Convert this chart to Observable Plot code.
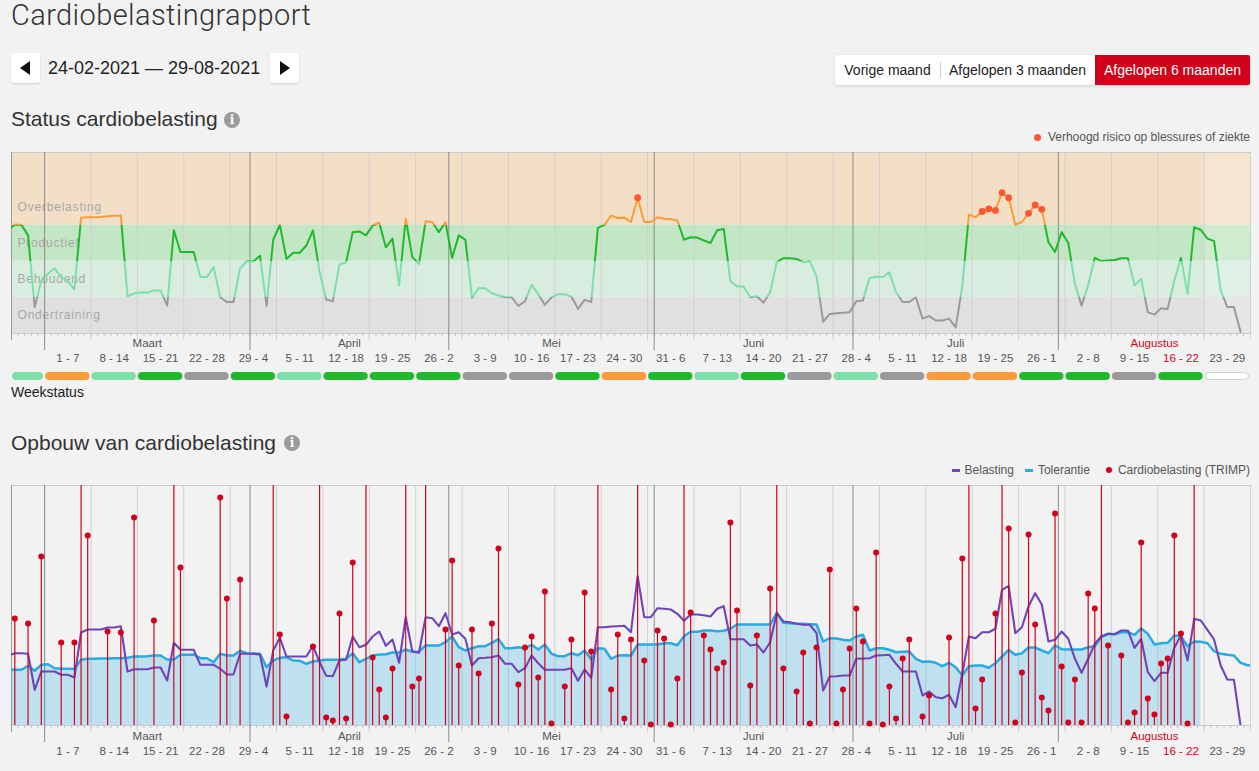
<!DOCTYPE html>
<html lang="nl">
<head>
<meta charset="utf-8">
<script src="https://cdn.jsdelivr.net/npm/d3@7"></script>
<script src="https://cdn.jsdelivr.net/npm/@observablehq/plot@0.6"></script>
<style>
  html, body { margin: 0; padding: 0; }
  body { background: #f2f2f2; width: 1259px; height: 771px; overflow: hidden; position: relative;
         font-family: "Liberation Sans", Arial, Helvetica, sans-serif; color: #333; }
  .abs { position: absolute; white-space: nowrap; }
  .title { left: 11px; top: -1px; font-size: 29px; line-height: 32px; font-weight: 300; letter-spacing: 0.4px;
           font-family: "Roboto", "Liberation Sans", sans-serif; color: #333; }
  .navbtn { width: 29px; height: 30px; background: #fff; border-radius: 3px; box-shadow: 0 1px 2px rgba(0,0,0,0.15); }
  .tri-l { position: absolute; left: 9px; top: 8px; width: 0; height: 0; border-top: 7px solid transparent; border-bottom: 7px solid transparent; border-right: 10px solid #111; }
  .tri-r { position: absolute; left: 10px; top: 8px; width: 0; height: 0; border-top: 7px solid transparent; border-bottom: 7px solid transparent; border-left: 10px solid #111; }
  .daterange { left: 48px; top: 57px; font-size: 18px; line-height: 22px; color: #222; }
  .group { left: 835px; top: 55px; width: 415px; height: 30px; background: #fff; box-shadow: 0 1px 3px rgba(0,0,0,0.15); border-radius: 2px; }
  .seg { position: absolute; top: 0; height: 30px; line-height: 30px; font-size: 14px; color: #222; text-align: center; }
  .sep { position: absolute; left: 105px; top: 7px; width: 1px; height: 16px; background: #ccc; }
  .h2 { left: 11px; font-size: 21px; line-height: 24px; color: #333; }
  .info { width: 16px; height: 16px; border-radius: 8px; background: #9b9b9b; color: #fff; font: bold 12px/16px "DejaVu Serif", serif; text-align: center; }
  .legend { font-size: 12px; line-height: 16px; color: #555; display: flex; align-items: center; }
  .weekstatus { left: 11px; top: 384px; font-size: 14px; line-height: 16px; color: #222; }
</style>
</head>
<body>
<div class="abs title">Cardiobelastingrapport</div>

<div class="abs navbtn" style="left:11px;top:53px"><div class="tri-l"></div></div>
<div class="abs daterange">24-02-2021 — 29-08-2021</div>
<div class="abs navbtn" style="left:270px;top:53px"><div class="tri-r"></div></div>

<div class="abs group">
  <div class="seg" style="left:0;width:105px">Vorige maand</div>
  <div class="sep"></div>
  <div class="seg" style="left:106px;width:153px">Afgelopen 3 maanden</div>
  <div class="seg" style="left:260px;width:155px;background:#d0021b;color:#fff;border-radius:0 2px 2px 0">Afgelopen 6 maanden</div>
</div>

<div class="abs h2" style="top:107px">Status cardiobelasting</div>
<div class="abs info" style="left:224px;top:112px">i</div>
<div class="abs legend" style="right:9px;top:129px">
  <span style="display:inline-block;width:7px;height:7px;border-radius:4px;background:#ff5533;margin-right:7px"></span>Verhoogd risico op blessures of ziekte
</div>

<div id="chart1" class="abs" style="left:0;top:145px"></div>
<div class="abs weekstatus">Weekstatus</div>

<div class="abs h2" style="top:431px">Opbouw van cardiobelasting</div>
<div class="abs info" style="left:284px;top:435px">i</div>
<div class="abs legend" style="right:9px;top:462px">
  <span style="display:inline-block;width:8px;height:3px;background:#6f44b8;margin-right:5px"></span>Belasting
  <span style="display:inline-block;width:8px;height:3px;background:#29abe2;margin:0 5px 0 11px"></span>Tolerantie
  <span style="display:inline-block;width:6px;height:6px;border-radius:3px;background:#d0021b;margin:0 6px 0 16px"></span>Cardiobelasting (TRIMP)
</div>

<div id="chart2" class="abs" style="left:0;top:480px"></div>

<script>
// ---------------- DATA ----------------
// daily values, first entry = 23-02-2021, one per day
const statusValues = [
  2.85,
  3.01,3.00,2.71,0.73,1.46,1.65,1.80,1.56,1.46,1.21,
  3.20,3.21,3.21,3.22,3.24,3.25,3.26,1.03,1.11,1.13,
  1.13,1.19,1.19,0.77,2.85,2.25,2.25,2.25,1.56,1.56,
  1.83,1.00,0.87,0.87,1.80,1.99,1.99,2.15,0.76,2.59,
  3.00,2.06,2.23,2.23,2.43,2.85,1.69,0.94,0.89,1.91,
  1.97,2.80,2.82,2.71,2.98,3.06,2.38,2.62,1.33,3.17,
  2.11,1.92,3.10,3.08,2.80,3.08,2.09,2.71,2.59,0.99,
  1.25,1.25,1.11,1.05,1.00,1.00,0.76,0.89,1.35,1.08,
  0.79,1.00,1.09,1.08,1.02,0.68,0.93,0.87,2.92,3.00,
  3.26,3.19,3.20,3.08,3.75,3.08,3.08,3.21,3.17,3.16,
  3.12,2.59,2.66,2.65,2.57,2.50,2.85,2.89,1.45,1.30,
  1.30,1.00,1.03,0.85,1.14,1.97,2.08,2.08,2.06,1.97,
  1.99,1.58,0.33,0.54,0.56,0.57,0.59,0.89,0.91,1.53,
  1.57,1.56,1.69,1.14,0.87,0.87,1.00,0.41,0.48,0.36,
  0.36,0.41,0.17,1.30,3.28,3.21,3.37,3.44,3.40,3.89,
  3.75,3.01,3.08,3.32,3.55,3.43,2.52,2.25,2.80,2.50,
  1.37,0.77,1.33,2.09,2.00,2.02,2.03,2.08,2.08,1.33,
  1.51,0.59,0.52,0.70,0.68,1.46,2.09,1.10,2.94,2.86,
  2.62,2.55,1.19,0.73,0.73,0.04
];
// day numbers (0 = 24-02-2021) with "verhoogd risico"
const riskDays = [94,146,147,148,149,150,153,154,155];

const belastingValues = [
  70,
  72.3,72.3,71.7,35.7,54,54,54,50.7,50.7,48,
  93,96,96,96,98,98,99.3,54,56.3,56.3,
  56.3,58,58,45,82.7,75.7,75.7,75.7,60.7,60.7,
  60.7,56.7,51,51,71.7,71.7,71.7,71,39,75,
  87.7,69,69,69,69,79.7,63.3,49.7,49.3,65,
  65.7,89,78.3,80.7,89,94,79.7,86,62.7,108.3,
  74,72.7,108.3,107.3,99.3,112.3,91,93.3,86.7,60,
  67.3,67.7,68.3,70,61.7,61.7,53.3,57.3,70,62.3,
  55.7,55.7,55.7,55.7,57.3,44.7,56,47.7,98.3,98.3,
  99,99.3,99.7,93.3,149.3,108.3,108.3,117.3,116.7,116,
  111.7,104.7,111,111,110.3,109,116.7,119.3,86.3,86.3,
  86.3,80,81,73,83.3,112.3,104,103.3,101.7,100.7,
  100.7,92.3,35,49,49.3,50,50,66.7,67,67.3,
  70,70.3,70.7,61.7,54,54,54,30,34,28.3,
  27.3,30.7,18.3,51.7,89,87.3,93.3,93.3,96.7,135.7,
  139.7,92.3,98.3,119.3,132.3,121,84,85.7,94,86.7,
  66.7,52.7,66.7,81.7,89.3,91.7,91.3,95,95,77.7,
  86.7,53.3,44.3,52.7,52.7,77.7,90,65,106.7,105,
  95.7,86,60,46,45.7,0
];
const tolerantieValues = [
  55.7,
  55.7,55.7,59.7,54.7,60.7,61.3,57.3,56.7,56.7,56.7,
  65.7,66.7,66.7,67,67,67.3,67.3,67.7,69,69,
  69.3,70,70,66,66,70.7,70.7,71,67.3,67.3,
  63.3,71.7,70,70,74.7,72.3,72,71.7,58.3,65,
  67.7,68.3,65,64.7,61.7,64,65,65.7,65.7,66,
  66.7,72.3,63.3,66.7,70,71,71.3,73,73,76,
  73.7,74,80,80,80,83.3,89,78.3,75,77.3,
  79.3,79.3,82.7,86.3,77.3,77.3,78.3,77.3,80.7,76,
  81,71.7,69.3,69.3,72.3,70.3,75,66,77.3,76.7,
  66.7,70,70.3,70,81,81,81,81,82.3,82.3,
  80.3,89.3,93.7,93.7,95,95,94.3,94.7,96.7,101,
  101,101,101,101,101,112.7,102.7,102.3,101.7,101.7,
  101.3,101,84,87.3,87,85.7,85,89,90.7,75,
  77.3,77.3,75.7,73.3,73.7,74,66.7,63.7,64,62.7,
  59.3,62.7,58.3,50,59.3,60,60,57.7,62.3,69,
  75.7,70.7,72.3,78,78,75,72.3,80,76.3,76,
  76,76,78.3,79.3,88.3,91.7,91.3,93.3,93.3,90.7,
  97,91.7,81,82.3,82.7,90,89.3,79.3,84,83.7,
  82.3,74.3,71.7,70.7,70,62.7,60.3,60.3
];
const lastMeasuredDay = 179; // 22-08-2021: tolerance area stops here

// TRIMP sessions: day number (0 = 24-02-2021) and value (values above 240 run off the top)
const trimpDays = [0,2,4,7,9,10,11,14,16,18,21,24,25,31,32,34,39,40,41,45,46,47,48,49,50,51,53,54,55,56,57,59,60,61,62,
  65,66,67,69,70,72,73,76,77,78,79,80,81,83,84,86,87,88,90,91,92,93,94,95,96,97,98,99,100,101,102,104,105,106,107,108,109,
  111,112,114,115,116,118,119,120,121,123,124,125,126,127,128,129,130,131,132,133,134,135,137,138,141,143,144,145,146,148,
  149,150,151,152,153,154,155,156,157,158,159,160,161,162,163,164,165,167,168,169,170,171,172,173,174,175,176,177,178];
const trimpValues = [107,102,169,83,83,300,190,94,93,208,105,300,158,228,127,146,300,91,9,79,300,8,5,112,7,163,300,68,36,8,57,300,39,47,300,
  96,165,60,96,52,102,177,41,78,89,48,134,2,39,86,133,74,300,36,91,7,86,300,65,1,95,87,1,47,300,113,90,76,57,63,203,115,
  40,90,137,300,57,34,73,2,78,156,2,36,77,117,84,2,173,1,39,7,67,86,9,30,88,167,300,17,46,112,
  300,197,3,53,191,101,28,15,212,59,3,46,3,132,117,300,80,70,3,13,183,27,11,62,67,190,92,2,300];

const zoneNames = ["Ondertraining", "Behoudend", "Productief", "Overbelasting"];
const zoneLower = [0, 1, 2, 3];
const zoneUpper = [1, 2, 3, 5];
const zoneFills = ["#e0e0e0", "#d8ede0", "#c3e6c5", "#f3dfc6"];
const zoneLines = ["#9a9a9a", "#7ddfa9", "#1fba2b", "#fd9a38"];

const monthNames = ["Maart", "April", "Mei", "Juni", "Juli", "Augustus"];
const weekLabels = ["1 - 7","8 - 14","15 - 21","22 - 28","29 - 4","5 - 11","12 - 18","19 - 25","26 - 2","3 - 9",
  "10 - 16","17 - 23","24 - 30","31 - 6","7 - 13","14 - 20","21 - 27","28 - 4","5 - 11","12 - 18",
  "19 - 25","26 - 1","2 - 8","9 - 15","16 - 22","23 - 29"];
// first entry = partial week 24-28 Feb
const weekStatus = ["Behoudend","Overbelasting","Behoudend","Productief","Ondertraining","Productief","Behoudend",
  "Productief","Productief","Productief","Ondertraining","Ondertraining","Productief","Overbelasting","Productief",
  "Behoudend","Productief","Ondertraining","Behoudend","Ondertraining","Overbelasting","Overbelasting","Productief",
  "Productief","Ondertraining","Productief",null];
const currentWeek = 24;   // index in weekLabels ("16 - 22")
const currentMonth = "Augustus";

// ---------------- HELPERS ----------------
const RED = "#d0021b";
const DAY = 864e5;
const T0 = Date.UTC(2021, 1, 24);
const dayStart = d => new Date(T0 + d * DAY);
const dayNoon = d => new Date(T0 + (d + 0.5) * DAY);
const xDomain = [dayStart(0), dayStart(187)];
const FONT = '"Liberation Sans", Arial, Helvetica, sans-serif';

const zones = zoneNames.map((name, i) => ({name, lo: zoneLower[i], hi: zoneUpper[i], fill: zoneFills[i], line: zoneLines[i]}));
const zoneColor = Object.fromEntries(zones.map(z => [z.name, z.line]));

const statusData = statusValues.map((v, i) => ({date: dayNoon(i - 1), day: i - 1, v}));
const riskData = statusData.filter(d => riskDays.includes(d.day));
const loadData = belastingValues.map((v, i) => ({date: dayNoon(i - 1), v}));
const tolData = tolerantieValues.map((v, i) => ({date: dayNoon(i - 1), day: i - 1, v}));
const tolArea = tolData.filter(d => d.day <= lastMeasuredDay);
const trimp = trimpDays.map((d, i) => ({date: dayNoon(d), v: trimpValues[i]}));

const dayTicks = d3.range(0, 188).map(dayStart);
const firstMonday = new Date(Date.UTC(2021, 2, 1));
const mondays = weekLabels.map((_, i) => new Date(+firstMonday + i * 7 * DAY));
const monthStarts = monthNames.map((_, i) => new Date(Date.UTC(2021, 2 + i, 1)));
const months = monthNames.map((name, i) => {
  const a = Math.max(+monthStarts[i], +xDomain[0]);
  const b = Math.min(Date.UTC(2021, 3 + i, 1), +xDomain[1]);
  return {name, mid: new Date((a + b) / 2), color: name === currentMonth ? RED : "#555"};
});
const weeks = weekLabels.map((label, i) => ({label, mid: new Date(+mondays[i] + 3.5 * DAY), color: i === currentWeek ? RED : "#555"}));
const weekStarts = [xDomain[0], ...mondays];
const pills = weekStatus.map((s, i) => ({
  start: weekStarts[i],
  end: new Date(Math.min(i + 1 < weekStarts.length ? +weekStarts[i + 1] : +weekStarts[i] + 7 * DAY, +xDomain[1])),
  status: s, color: s ? zoneColor[s] : null
}));
const future = [{start: dayStart(lastMeasuredDay + 1), end: xDomain[1]}];

function zoneGradient(index, scales) {
  const y = scales.y;
  const defs = d3.create("svg:defs");
  const g = defs.append("linearGradient").attr("id", "zone-grad")
    .attr("gradientUnits", "userSpaceOnUse").attr("x1", 0).attr("x2", 0)
    .attr("y1", y(0)).attr("y2", y(5));
  zones.forEach(z => {
    g.append("stop").attr("offset", z.lo / 5).attr("stop-color", z.line);
    g.append("stop").attr("offset", z.hi / 5).attr("stop-color", z.line);
  });
  return defs.node();
}

function axisMarks(frameH, monthDy, weekDy) {
  return [
    Plot.ruleX(dayTicks, {x: d => d, insetTop: frameH, insetBottom: -3, stroke: "#c2c2c2"}),
    Plot.ruleX(mondays, {x: d => d, insetBottom: -7, stroke: "#d0d0d0"}),
    Plot.ruleX([xDomain[1]], {x: d => d, insetBottom: -5, stroke: "#d0d0d0"}),
    Plot.ruleX([xDomain[0]], {x: d => d, insetBottom: -7, stroke: "#9a9a9a"}),
    Plot.ruleX(monthStarts, {x: d => d, insetBottom: -17, stroke: "#8c8c8c"}),
    Plot.text(months, {x: "mid", text: "name", frameAnchor: "bottom", dy: monthDy, fill: "color", fontSize: 11.5}),
    Plot.text(weeks, {x: "mid", text: "label", frameAnchor: "bottom", dy: weekDy, fill: "color", fontSize: 11.5})
  ];
}

// ---------------- CHART 1: status ----------------
const H1 = 181;
const chart1 = Plot.plot({
  width: 1259, height: 238,
  marginTop: 7, marginBottom: 50, marginLeft: 11, marginRight: 9,
  x: {type: "utc", domain: xDomain, axis: null},
  y: {domain: [0, 5], axis: null},
  color: {type: "identity"},
  style: {background: "transparent", overflow: "visible", fontFamily: FONT},
  marks: [
    Plot.rect(zones, {y1: "lo", y2: "hi", fill: "fill"}),
    Plot.rect(future, {x1: "start", x2: "end", fill: "#ffffff", fillOpacity: 0.2}),
    Plot.text(zones, {y: d => d.lo + 0.5, text: "name", frameAnchor: "left", dx: 6, textAnchor: "start", fill: "#a8a8a8", fontSize: 12}),
    Plot.ruleY([0, 5], {stroke: "#cccccc"}),
    ...axisMarks(H1, 13, 28),
    zoneGradient,
    Plot.line(statusData, {x: "date", y: "v", stroke: "url(#zone-grad)", strokeWidth: 2, clip: true}),
    Plot.dot(riskData, {x: "date", y: "v", r: 3.4, fill: "#ff5533"}),
    Plot.rect(pills.filter(p => p.status), {x1: "start", x2: "end", insetLeft: 1, insetRight: 1,
      insetTop: H1 + 39, insetBottom: -47, rx: 4, fill: "color"}),
    Plot.rect(pills.filter(p => !p.status), {x1: "start", x2: "end", insetLeft: 1.5, insetRight: 1.5,
      insetTop: H1 + 39.5, insetBottom: -46.5, rx: 4, fill: "#ffffff", stroke: "#cccccc"})
  ]
});
d3.select(chart1).selectAll("text").filter(function () { return zoneNames.includes(this.textContent); })
  .attr("letter-spacing", "0.8px");
document.getElementById("chart1").appendChild(chart1);

// ---------------- CHART 2: opbouw ----------------
const H2 = 240;
const chart2 = Plot.plot({
  width: 1259, height: 285,
  marginTop: 5, marginBottom: 40, marginLeft: 11, marginRight: 9,
  x: {type: "utc", domain: xDomain, axis: null},
  y: {domain: [0, 240], axis: null},
  color: {type: "identity"},
  style: {background: "transparent", overflow: "visible", fontFamily: FONT},
  marks: [
    Plot.ruleY([0, 240], {stroke: "#cccccc"}),
    ...axisMarks(H2, 14, 29),
    Plot.areaY(tolArea, {x: "date", y: "v", fill: "#29abe2", fillOpacity: 0.25, clip: true}),
    Plot.line(tolData, {x: "date", y: "v", stroke: "#29abe2", strokeWidth: 2.5, clip: true}),
    Plot.line(loadData, {x: "date", y: "v", stroke: "#6f44b8", strokeWidth: 2.1, clip: true}),
    Plot.ruleX(trimp, {x: "date", y1: 0, y2: "v", stroke: RED, strokeWidth: 1.2, clip: true}),
    Plot.dot(trimp.filter(d => d.v <= 240), {x: "date", y: "v", r: 3, fill: RED})
  ]
});
document.getElementById("chart2").appendChild(chart2);
</script>
</body>
</html>
